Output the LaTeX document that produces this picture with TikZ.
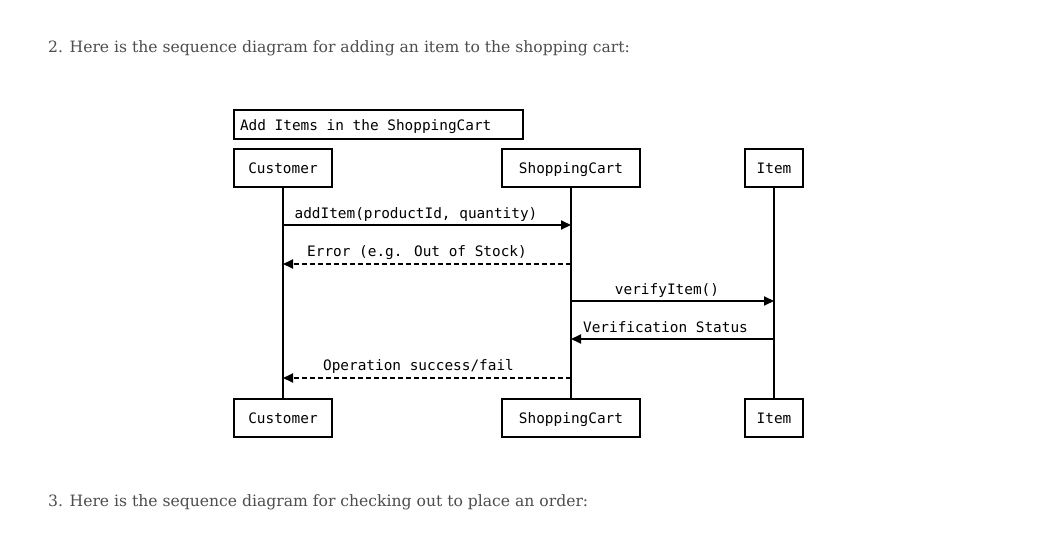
\documentclass[tikz,border=0pt]{standalone}
\usepackage{fontspec}
\setmainfont{DejaVu Serif}
\newfontfamily\diagmono{DejaVu Sans Mono}
\usetikzlibrary{arrows.meta}
\definecolor{bodygray}{HTML}{4D4D4D}
\begin{document}
\begin{tikzpicture}[x=1pt,y=-1pt,
  lbox/.style={draw=black,line width=2pt,inner sep=0pt,font=\diagmono\fontsize{14.4}{16}\selectfont,minimum height=38pt,text height=12.5pt,text depth=1.5pt},
  lifeline/.style={line width=2pt},
  msg/.style={line width=2pt,-{Triangle[length=10pt,width=9pt]}},
  ret/.style={msg,dash pattern=on 5pt off 3pt},
  mlabel/.style={font=\diagmono\fontsize{14.4}{16}\selectfont,inner sep=0pt,anchor=base},
  bodytext/.style={font=\fontsize{15.6}{18}\selectfont,text=bodygray,inner sep=0pt,anchor=base west}]
\useasboundingbox (0,0) rectangle (1039,543);
\fill[white] (0,0) rectangle (1039,543);
\node[bodytext] (t1) at (48,53) {2. Here is the sequence diagram for adding an item to the shopping cart:};
\node[bodytext] (t2) at (48,506) {3. Here is the sequence diagram for checking out to place an order:};
\node[lbox,minimum height=29pt,minimum width=289pt] (title) at (378.5,124.5) {\makebox[277pt][l]{Add Items in the ShoppingCart}};
\node[lbox,minimum width=98pt] (ct) at (283,168) {Customer};
\node[lbox,minimum width=138pt] (st) at (571,168) {ShoppingCart};
\node[lbox,minimum width=58pt] (it) at (774,168) {Item};
\node[lbox,minimum width=98pt] (cb) at (283,417.5) {Customer};
\node[lbox,minimum width=138pt] (sb) at (571,417.5) {ShoppingCart};
\node[lbox,minimum width=58pt] (ib) at (774,417.5) {Item};
\draw[lifeline] (ct) -- (cb);
\draw[lifeline] (st) -- (sb);
\draw[lifeline] (it) -- (ib);
\coordinate (y1) at (0,225);
\coordinate (y2) at (0,264);
\coordinate (y3) at (0,301);
\coordinate (y4) at (0,339);
\coordinate (y5) at (0,378);
\draw[msg] (ct |- y1) -- (st |- y1);
\draw[ret] (st |- y2) -- (ct |- y2);
\draw[msg] (st |- y3) -- (it |- y3);
\draw[msg] (it |- y4) -- (st |- y4);
\draw[ret] (st |- y5) -- (ct |- y5);
\node[mlabel] (l1) at (416,218) {addItem(productId, quantity)};
\node[mlabel] (l2) at (417,256) {Error (e.g. Out of Stock)};
\node[mlabel] (l3) at (667,294) {verifyItem()};
\node[mlabel] (l4) at (665.5,332) {Verification Status};
\node[mlabel] (l5) at (418.5,370) {Operation success/fail};
\end{tikzpicture}
\end{document}
